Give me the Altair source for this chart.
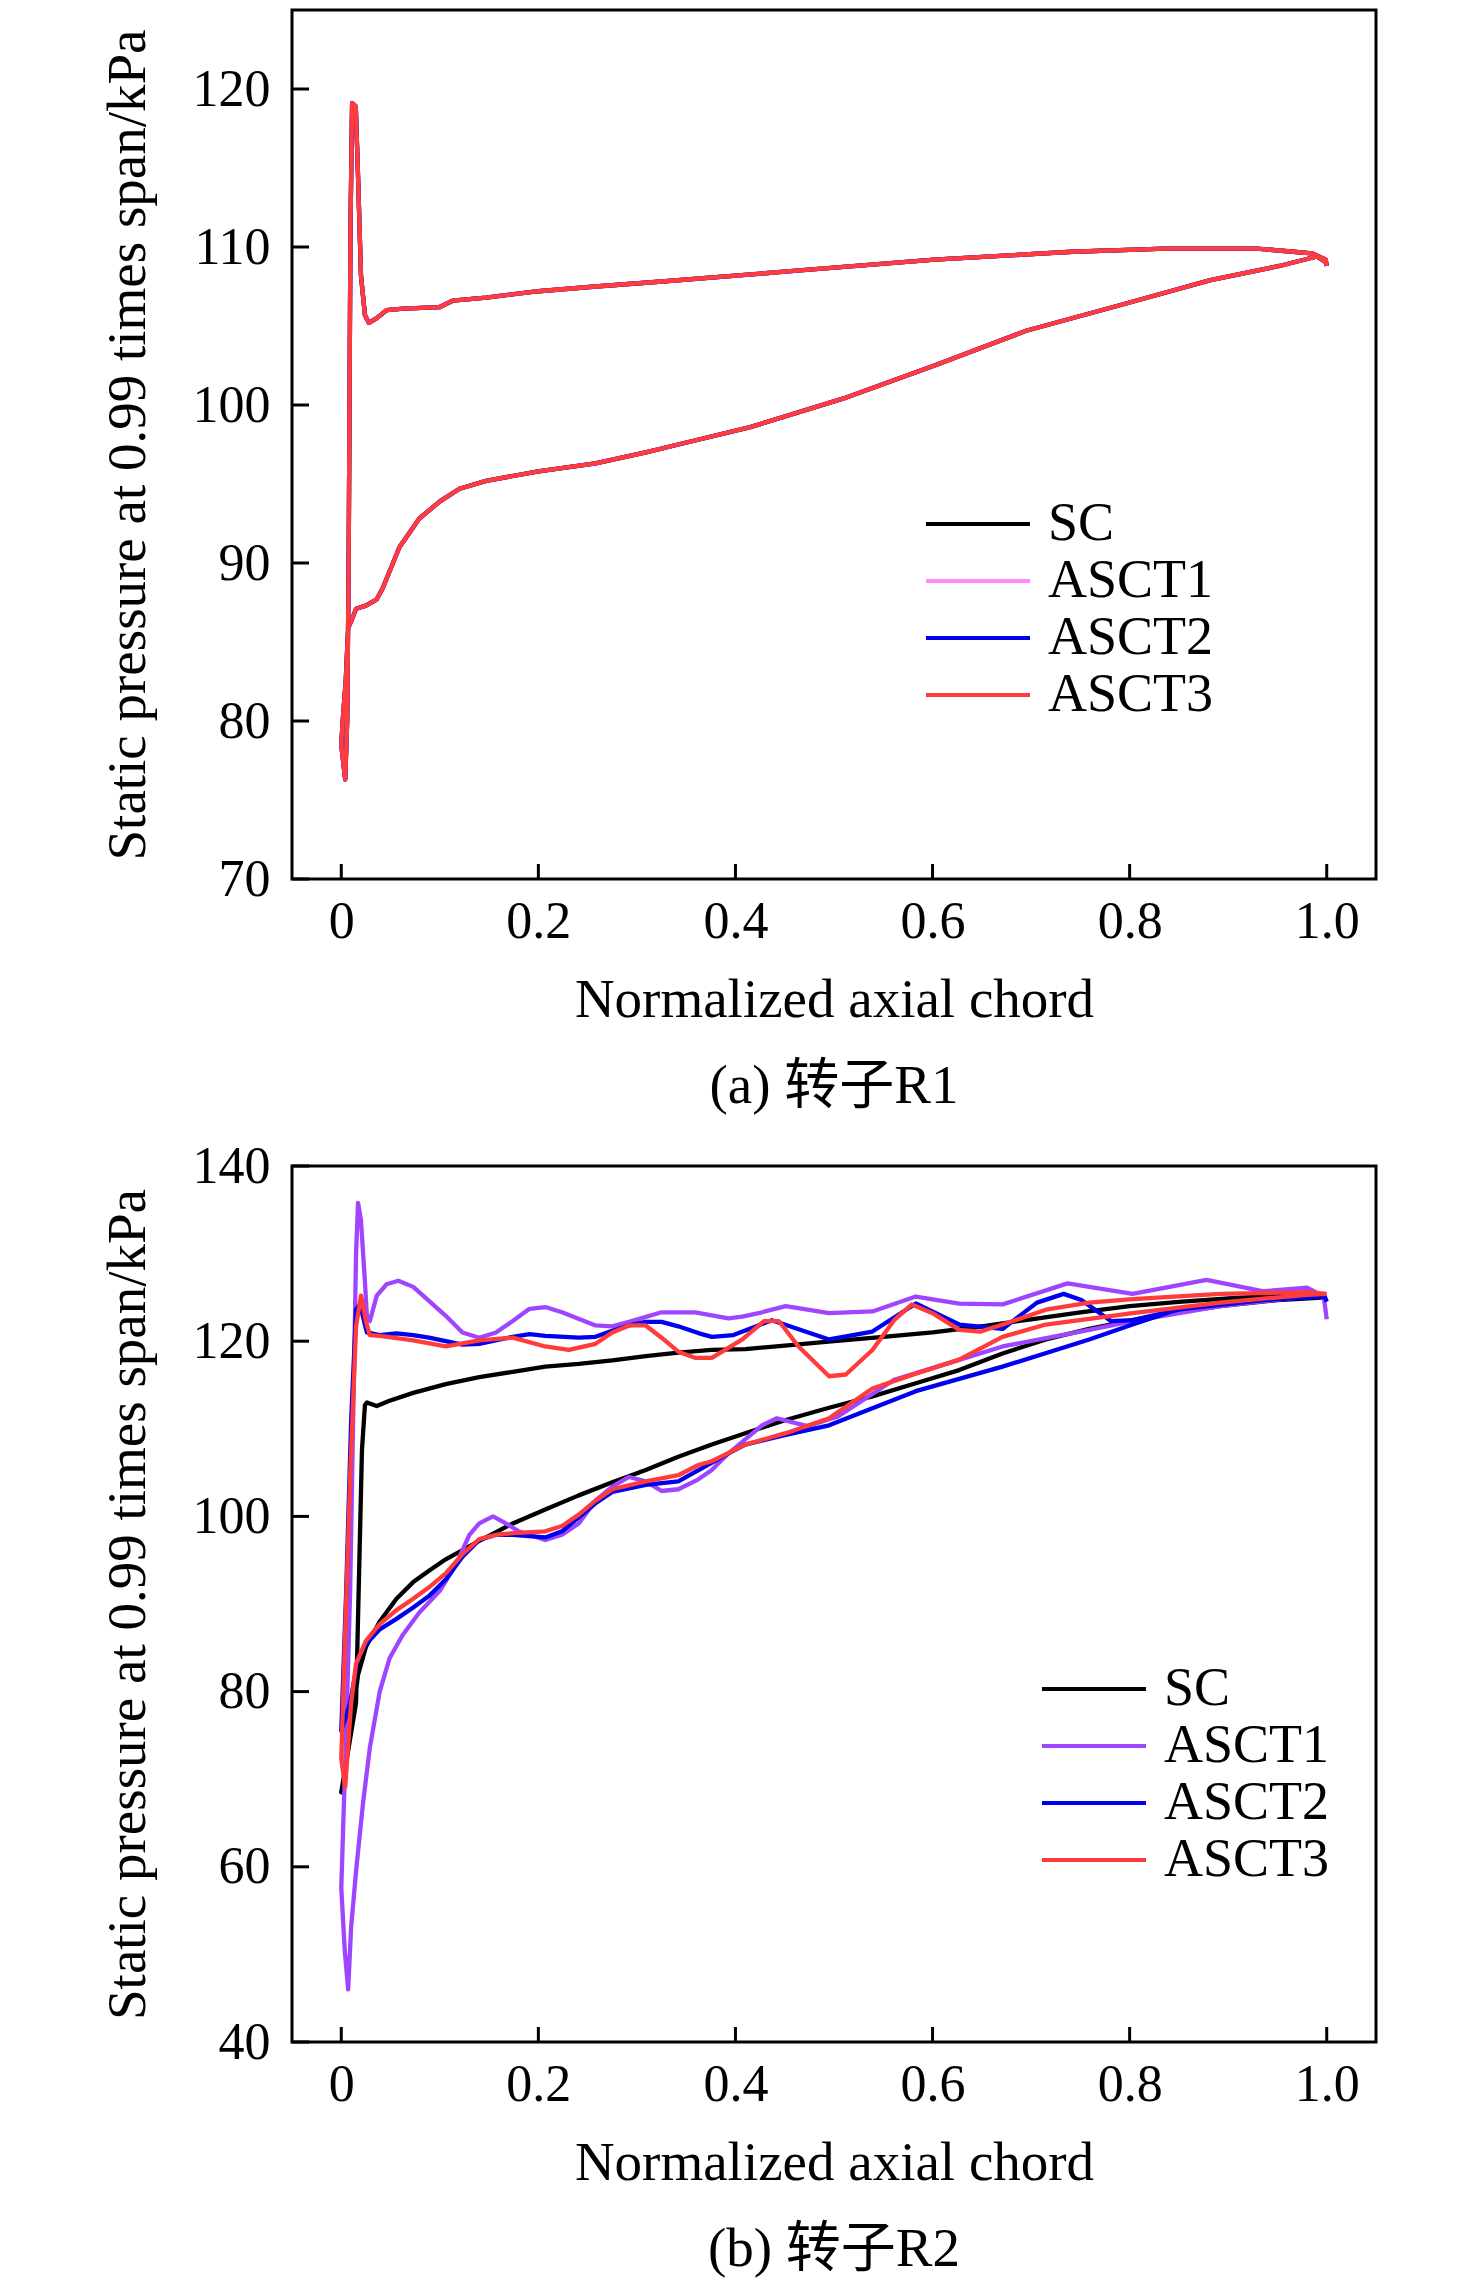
import altair as alt
import pandas as pd

SERIES = ["SC", "ASCT1", "ASCT2", "ASCT3"]
COLORS_A = ["#000000", "#FF88FF", "#0000EE", "#FF3B3B"]
COLORS_B = ["#000000", "#A045FF", "#0000EE", "#FF3B3B"]

X_TICKS = [0, 0.2, 0.4, 0.6, 0.8, 1.0]
Y_TICKS_A = [70, 80, 90, 100, 110, 120]
Y_TICKS_B = [40, 60, 80, 100, 120, 140]

# ---------------- (a) rotor R1 : the four schemes coincide ----------------
R1_UPPER_X = [0.000, 0.004, 0.006, 0.0075, 0.0093, 0.011, 0.0147, 0.017, 0.020, 0.024,
              0.028, 0.036, 0.046, 0.063, 0.100, 0.113, 0.147, 0.200, 0.258, 0.322,
              0.462, 0.602, 0.742, 0.836, 0.929, 0.966, 0.985, 0.999, 1.000]
R1_UPPER_Y = [78.5, 76.3, 80.0, 90.0, 111.0, 119.1, 118.9, 114.5, 108.2, 105.7,
              105.2, 105.5, 106.0, 106.1, 106.2, 106.6, 106.8, 107.2, 107.5, 107.8,
              108.5, 109.2, 109.7, 109.9, 109.9, 109.7, 109.6, 109.2, 108.8]
R1_LOWER_X = [0.000, 0.002, 0.0045, 0.007, 0.010, 0.015, 0.025, 0.036, 0.042, 0.059,
              0.079, 0.100, 0.120, 0.147, 0.200, 0.258, 0.309, 0.342, 0.415, 0.509,
              0.602, 0.695, 0.789, 0.882, 0.952, 0.990, 1.000]
R1_LOWER_Y = [78.5, 80.5, 82.5, 85.9, 86.3, 87.1, 87.3, 87.7, 88.4, 91.0,
              92.8, 93.9, 94.7, 95.2, 95.8, 96.3, 97.0, 97.5, 98.6, 100.4,
              102.5, 104.7, 106.3, 107.9, 108.8, 109.4, 109.0]

# ---------------- (b) rotor R2 ----------------
SC_UPPER_X = [0.0, 0.015, 0.019, 0.021, 0.024, 0.026, 0.036, 0.049, 0.073, 0.106, 0.140,
              0.174, 0.207, 0.241, 0.275, 0.309, 0.342, 0.376, 0.410, 0.45, 0.5, 0.55,
              0.6, 0.65, 0.7, 0.75, 0.8, 0.85, 0.9, 0.95, 1.0]
SC_UPPER_Y = [68.5, 78.7, 98.0, 107.6, 112.7, 113.0, 112.6, 113.2, 114.1, 115.1, 115.9,
              116.5, 117.1, 117.4, 117.8, 118.3, 118.7, 119.0, 119.1, 119.5, 120.0, 120.5,
              121.0, 121.7, 122.5, 123.3, 124.0, 124.5, 124.9, 125.2, 125.0]
SC_LOWER_X = [0.0, 0.010, 0.017, 0.025, 0.039, 0.056, 0.073, 0.089, 0.106, 0.140, 0.174,
              0.207, 0.241, 0.275, 0.309, 0.342, 0.376, 0.410, 0.451, 0.495, 0.539, 0.583,
              0.627, 0.671, 0.715, 0.759, 0.803, 0.848, 0.892, 0.95, 1.0]
SC_LOWER_Y = [68.5, 75.5, 81.9, 85.1, 88.0, 90.6, 92.5, 93.8, 95.1, 97.2, 99.2,
              100.8, 102.4, 103.9, 105.3, 106.8, 108.2, 109.5, 111.0, 112.4, 113.7, 115.2,
              116.7, 118.6, 120.2, 121.4, 122.4, 123.3, 124.0, 124.7, 125.0]

A1_UPPER_X = [0.0, 0.005, 0.009, 0.012, 0.015, 0.017, 0.020, 0.024, 0.026, 0.029, 0.036,
              0.046, 0.058, 0.073, 0.089, 0.106, 0.123, 0.140, 0.157, 0.174, 0.191, 0.207,
              0.224, 0.258, 0.275, 0.292, 0.325, 0.359, 0.393, 0.407, 0.427, 0.451, 0.495,
              0.539, 0.583, 0.627, 0.671, 0.737, 0.803, 0.878, 0.936, 0.980, 0.997, 1.0]
A1_UPPER_Y = [57.6, 75.5, 91.5, 110.8, 130.0, 135.8, 133.8, 126.8, 122.9, 122.3, 125.2,
              126.5, 126.9, 126.2, 124.6, 122.9, 121.0, 120.4, 121.0, 122.3, 123.7, 123.9,
              123.3, 121.8, 121.7, 122.2, 123.3, 123.3, 122.6, 122.8, 123.3, 124.0, 123.2,
              123.4, 125.1, 124.3, 124.2, 126.6, 125.4, 127.0, 125.7, 126.1, 125.1, 122.5]
A1_LOWER_X = [0.0, 0.0035, 0.007, 0.010, 0.015, 0.022, 0.029, 0.039, 0.049, 0.062, 0.079,
              0.100, 0.116, 0.130, 0.140, 0.154, 0.167, 0.180, 0.207, 0.224, 0.241, 0.258,
              0.275, 0.292, 0.309, 0.325, 0.342, 0.362, 0.376, 0.393, 0.410, 0.427, 0.442,
              0.473, 0.504, 0.561, 0.605, 0.671, 0.759, 0.803, 0.892, 0.980, 1.0]
A1_LOWER_Y = [57.6, 50.5, 46.0, 53.1, 59.5, 67.2, 73.6, 80.0, 83.8, 86.4, 89.0,
              91.5, 94.4, 97.9, 99.2, 100.0, 99.2, 98.3, 97.3, 97.9, 99.2, 101.8,
              103.4, 104.5, 104.0, 102.9, 103.1, 104.2, 105.3, 107.2, 108.8, 110.4, 111.2,
              110.3, 111.4, 115.6, 117.1, 119.4, 121.3, 122.3, 124.0, 125.1, 125.0]

A2_UPPER_X = [0.0, 0.005, 0.010, 0.015, 0.019, 0.026, 0.039, 0.056, 0.073, 0.089, 0.123,
              0.140, 0.174, 0.191, 0.207, 0.241, 0.258, 0.275, 0.292, 0.309, 0.325, 0.342,
              0.363, 0.376, 0.398, 0.437, 0.495, 0.539, 0.583, 0.627, 0.671, 0.706, 0.733,
              0.751, 0.781, 0.803, 0.85, 0.9, 0.95, 0.998, 1.0]
A2_UPPER_Y = [75.5, 91.5, 110.8, 123.6, 124.2, 121.0, 120.7, 120.9, 120.7, 120.4, 119.6,
              119.7, 120.5, 120.8, 120.6, 120.4, 120.5, 121.2, 121.8, 122.2, 122.2, 121.7,
              120.9, 120.5, 120.7, 122.4, 120.2, 121.1, 124.3, 121.9, 121.4, 124.4, 125.4,
              124.7, 122.3, 122.4, 123.6, 124.5, 125.0, 125.1, 124.5]
A2_LOWER_X = [0.0, 0.009, 0.017, 0.025, 0.039, 0.056, 0.073, 0.089, 0.106, 0.123, 0.140,
              0.157, 0.174, 0.207, 0.224, 0.241, 0.258, 0.275, 0.309, 0.342, 0.363, 0.393,
              0.410, 0.451, 0.495, 0.583, 0.671, 0.759, 0.803, 0.848, 0.936, 0.998]
A2_LOWER_Y = [75.5, 78.7, 83.8, 85.4, 87.1, 88.3, 89.6, 90.9, 92.8, 95.4, 97.3,
              97.9, 97.9, 97.6, 98.3, 99.9, 101.5, 102.8, 103.6, 104.0, 105.3, 107.2,
              108.2, 109.3, 110.4, 114.3, 117.1, 120.2, 121.9, 123.6, 124.7, 125.1]

A3_UPPER_X = [0.0, 0.0035, 0.009, 0.015, 0.020, 0.025, 0.029, 0.039, 0.073, 0.106, 0.140,
              0.174, 0.207, 0.231, 0.258, 0.275, 0.292, 0.309, 0.325, 0.342, 0.359, 0.376,
              0.407, 0.429, 0.444, 0.464, 0.495, 0.512, 0.539, 0.561, 0.579, 0.600, 0.627,
              0.649, 0.671, 0.715, 0.759, 0.803, 0.892, 0.980, 1.0]
A3_UPPER_Y = [72.3, 85.1, 104.4, 121.7, 125.2, 122.3, 120.7, 120.6, 120.1, 119.4, 120.1,
              120.4, 119.4, 119.0, 119.7, 121.0, 121.8, 121.8, 120.4, 118.8, 118.1, 118.1,
              120.2, 122.3, 122.3, 119.4, 116.0, 116.2, 119.0, 122.4, 124.2, 123.2, 121.3,
              121.1, 121.9, 123.6, 124.4, 124.8, 125.4, 125.6, 125.4]
A3_LOWER_X = [0.0, 0.004, 0.010, 0.015, 0.025, 0.039, 0.056, 0.073, 0.089, 0.106, 0.123,
              0.140, 0.157, 0.174, 0.207, 0.224, 0.241, 0.258, 0.275, 0.309, 0.342, 0.363,
              0.376, 0.410, 0.451, 0.495, 0.539, 0.583, 0.627, 0.671, 0.715, 0.803, 0.892,
              0.980, 1.0]
A3_LOWER_Y = [72.3, 69.1, 78.7, 83.2, 85.8, 87.7, 89.3, 90.6, 91.9, 93.5, 95.7,
              97.4, 97.9, 98.1, 98.3, 98.9, 100.2, 101.8, 103.1, 104.0, 104.7, 105.9,
              106.3, 108.2, 109.5, 111.2, 114.6, 116.3, 117.9, 120.5, 121.9, 123.2, 124.4,
              125.3, 125.4]

FONT = "Liberation Serif"
CAP_FONT = "Liberation Serif, Noto Sans CJK SC"
W = 1084
H_A = 869
H_B = 876


def path_rows(name, ux, uy, lx, ly):
    xs = list(reversed(lx)) + list(ux)
    ys = list(reversed(ly)) + list(uy)
    return [{"series": name, "idx": i, "x": a, "y": b} for i, (a, b) in enumerate(zip(xs, ys))]


rows_a = []
for s in SERIES:
    rows_a += path_rows(s, R1_UPPER_X, R1_UPPER_Y, R1_LOWER_X, R1_LOWER_Y)
df_a = pd.DataFrame(rows_a)

rows_b = []
rows_b += path_rows("SC", SC_UPPER_X, SC_UPPER_Y, SC_LOWER_X, SC_LOWER_Y)
rows_b += path_rows("ASCT1", A1_UPPER_X, A1_UPPER_Y, A1_LOWER_X, A1_LOWER_Y)
rows_b += path_rows("ASCT2", A2_UPPER_X, A2_UPPER_Y, A2_LOWER_X, A2_LOWER_Y)
rows_b += path_rows("ASCT3", A3_UPPER_X, A3_UPPER_Y, A3_LOWER_X, A3_LOWER_Y)
df_b = pd.DataFrame(rows_b)


def panel(df, colors, yticks, ydom, height, caption, legend_x, legend_y):
    xs = alt.Scale(domain=[-0.05, 1.05], nice=False, zero=False)
    ys = alt.Scale(domain=ydom, nice=False, zero=False)
    xaxis = alt.Axis(values=X_TICKS, labelExpr="datum.value == 0 ? '0' : format(datum.value, '.1f')",
                     ticks=False, domain=False, grid=False, labelFont=FONT, labelFontSize=52,
                     labelColor="black", labelPadding=17, labelFlush=False,
                     title="Normalized axial chord", titleFont=FONT, titleFontSize=55,
                     titleFontWeight="normal", titleColor="black", titlePadding=26)
    yaxis = alt.Axis(values=yticks, ticks=False, domain=False, grid=False, labelFont=FONT,
                     labelFontSize=52, labelColor="black", labelPadding=22, labelFlush=False,
                     title="Static pressure at 0.99 times span/kPa", titleFont=FONT,
                     titleFontSize=55, titleFontWeight="normal", titleColor="black",
                     titlePadding=36)
    color = alt.Color("series:N", scale=alt.Scale(domain=SERIES, range=colors), title=None,
                      legend=alt.Legend(orient="none", legendX=legend_x, legendY=legend_y,
                                        symbolType="M-4,0H4", symbolSize=676,
                                        symbolStrokeWidth=4, labelFont=FONT, labelFontSize=54,
                                        labelColor="black", labelOffset=43, rowPadding=3,
                                        padding=0, labelLimit=400))
    layers = []
    for s in SERIES:
        layers.append(
            alt.Chart(df).transform_filter(alt.datum.series == s)
            .mark_line(strokeWidth=4.3, strokeJoin="round")
            .encode(x=alt.X("x:Q", scale=xs, axis=xaxis),
                    y=alt.Y("y:Q", scale=ys, axis=yaxis),
                    color=color, order=alt.Order("idx:Q"))
        )
    yt = alt.Chart(pd.DataFrame({"y": yticks})).mark_rule(color="black", strokeWidth=3).encode(
        y=alt.Y("y:Q", scale=ys, axis=yaxis), x=alt.value(0), x2=alt.value(17))
    xt = alt.Chart(pd.DataFrame({"x": X_TICKS})).mark_rule(color="black", strokeWidth=3).encode(
        x=alt.X("x:Q", scale=xs, axis=xaxis), y=alt.value(height), y2=alt.value(height - 15))
    layers += [yt, xt]
    return alt.layer(*layers).properties(
        width=W, height=height,
        title=alt.TitleParams(caption, orient="bottom", font=CAP_FONT, fontSize=55,
                              fontWeight="normal", color="black", offset=33))


top = panel(df_a, COLORS_A, Y_TICKS_A, [70, 125], H_A, "(a) 转子R1", 659, 487)
bottom = panel(df_b, COLORS_B, Y_TICKS_B, [40, 140], H_B, "(b) 转子R2", 775, 496)

chart = (
    alt.vconcat(top, bottom, spacing=22)
    .resolve_scale(x="independent", y="independent", color="independent")
    .resolve_legend(color="independent")
    .properties(padding={"left": 90, "top": 0, "right": 5, "bottom": 0}, background="white")
    .configure_view(stroke="black", strokeWidth=3)
)

chart.save("out.html", embed_options={"renderer": "svg", "actions": False})
